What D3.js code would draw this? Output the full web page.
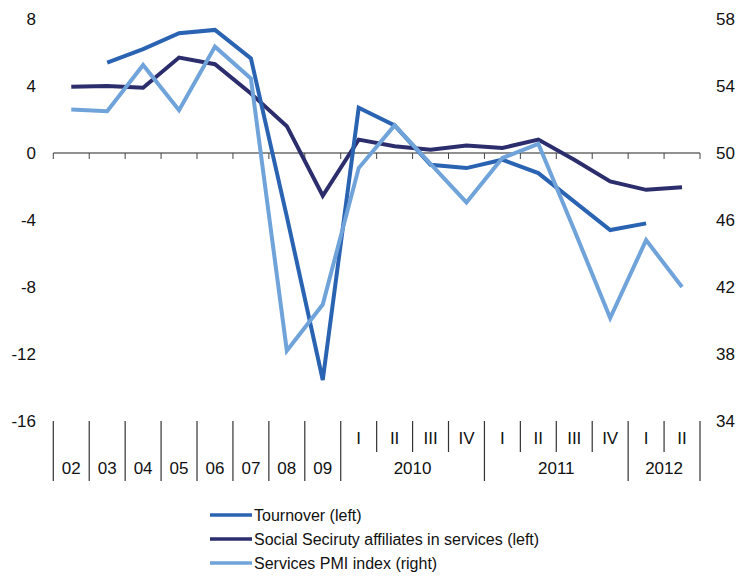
<!DOCTYPE html>
<html>
<head>
<meta charset="utf-8">
<script src="https://cdn.jsdelivr.net/npm/d3@7"></script>
<style>
  html, body { margin: 0; padding: 0; background: #fff; }
  svg text { font-family: "Liberation Sans", Arial, sans-serif; fill: #111; }
</style>
</head>
<body>
<svg id="chart" width="742" height="576"></svg>
<script>
// ---- data ----
const categories = ["02","03","04","05","06","07","08","09",
  "2010-I","2010-II","2010-III","2010-IV",
  "2011-I","2011-II","2011-III","2011-IV",
  "2012-I","2012-II"];
const yearLabels = ["02","03","04","05","06","07","08","09"];
const quarterLabels = ["I","II","III","IV","I","II","III","IV","I","II"];
const quarterYears = ["2010","2011","2012"];
const tournover = [null, 5.4, 6.2, 7.15, 7.35, 5.65, -3.8, -13.55, 2.7, 1.65, -0.7, -0.9, -0.4, -1.2, -2.9, -4.6, -4.2, null];
const socialSecurity = [3.95, 4.0, 3.9, 5.7, 5.3, 3.55, 1.6, -2.55, 0.8, 0.4, 0.2, 0.45, 0.3, 0.8, -0.4, -1.7, -2.2, -2.05];
const pmi = [52.6, 52.5, 55.25, 52.55, 56.35, 54.45, 38.2, 40.95, 49.1, 51.65, 49.35, 47.05, 49.7, 50.55, 45.4, 40.15, 44.8, 42.0];
const leftTicks = [8, 4, 0, -4, -8, -12, -16];
const rightTicks = [58, 54, 50, 46, 42, 38, 34];
const seriesNames = ["Tournover (left)", "Social Seciruty affiliates in services (left)", "Services PMI index (right)"];
const colors = ["#2a63b2", "#2c2d6d", "#6fa3d9"];

// ---- scales ----
const svg = d3.select("#chart");
const x = d3.scaleBand().domain(categories).range([53.3, 700]).padding(0);
const yL = d3.scaleLinear().domain([-16, 8]).range([421, 19]);
const yR = d3.scaleLinear().domain([34, 58]).range([421, 19]);
const cx = (i) => x(categories[i]) + x.bandwidth() / 2;

// left axis labels
svg.append("g").selectAll("text").data(leftTicks).join("text")
  .attr("x", 36).attr("y", d => yL(d)).attr("dy", "0.36em")
  .attr("text-anchor", "end").attr("font-size", 17).text(d => d);
// right axis labels
svg.append("g").selectAll("text").data(rightTicks).join("text")
  .attr("x", 716).attr("y", d => yR(d)).attr("dy", "0.36em")
  .attr("text-anchor", "start").attr("font-size", 17).text(d => d);

// zero line with ticks
const y0 = yL(0);
svg.append("line").attr("x1", x.range()[0]).attr("x2", x.range()[1])
  .attr("y1", y0).attr("y2", y0).attr("stroke", "#222").attr("stroke-width", 1.2);
const bounds = d3.range(categories.length + 1).map(i => x.range()[0] + i * x.step());
svg.append("g").selectAll("line").data(bounds).join("line")
  .attr("x1", d => d).attr("x2", d => d).attr("y1", y0).attr("y2", y0 + 6)
  .attr("stroke", "#444").attr("stroke-width", 1);

// bottom category axis
const longIdx = new Set([0,1,2,3,4,5,6,7,8,12,16,18]);
svg.append("g").selectAll("line").data(bounds).join("line")
  .attr("x1", d => d).attr("x2", d => d)
  .attr("y1", 421).attr("y2", (d, i) => longIdx.has(i) ? 481 : 452)
  .attr("stroke", "#333").attr("stroke-width", 1.2);
// annual labels
svg.append("g").selectAll("text").data(yearLabels).join("text")
  .attr("x", (d, i) => cx(i)).attr("y", 468).attr("dy", "0.36em")
  .attr("text-anchor", "middle").attr("font-size", 17).text(d => d);
// quarter labels
svg.append("g").selectAll("text").data(quarterLabels).join("text")
  .attr("x", (d, i) => cx(i + 8)).attr("y", 438).attr("dy", "0.36em")
  .attr("text-anchor", "middle").attr("font-size", 17).text(d => d);
// year group labels
const groupSpans = [[8, 12], [12, 16], [16, 18]];
svg.append("g").selectAll("text").data(quarterYears).join("text")
  .attr("x", (d, i) => (bounds[groupSpans[i][0]] + bounds[groupSpans[i][1]]) / 2)
  .attr("y", 468).attr("dy", "0.36em")
  .attr("text-anchor", "middle").attr("font-size", 17).text(d => d);

// lines
const mk = (scale) => d3.line()
  .defined(d => d != null)
  .x((d, i) => cx(i))
  .y(d => scale(d));
const series = [
  { data: tournover, scale: yL },
  { data: socialSecurity, scale: yL },
  { data: pmi, scale: yR }
];
// draw order: tournover under? draw social, tournover, pmi
[1, 0, 2].forEach(k => {
  svg.append("path").datum(series[k].data)
    .attr("d", mk(series[k].scale))
    .attr("fill", "none").attr("stroke", colors[k])
    .attr("stroke-width", 4).attr("stroke-linejoin", "miter");
});

// legend
const lg = svg.append("g");
seriesNames.forEach((name, i) => {
  const yy = 515 + i * 24;
  lg.append("line").attr("x1", 210).attr("x2", 252).attr("y1", yy).attr("y2", yy)
    .attr("stroke", colors[i]).attr("stroke-width", 3.5);
  lg.append("text").attr("x", 254).attr("y", yy).attr("dy", "0.36em")
    .attr("font-size", 16).text(name);
});
</script>
</body>
</html>
